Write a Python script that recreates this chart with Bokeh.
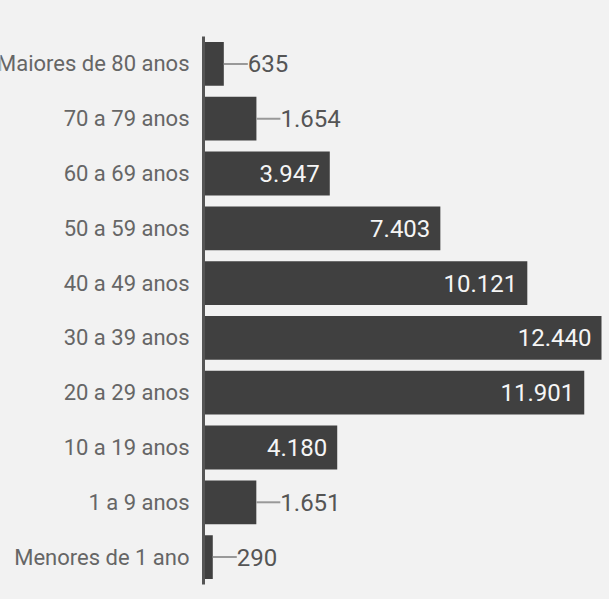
from bokeh.plotting import figure
from bokeh.layouts import row
from bokeh.models import ColumnDataSource, FactorRange, Range1d, LabelSet, LinearAxis, FixedTicker
from bokeh.core.properties import value
from bokeh.embed import file_html
from bokeh.resources import INLINE

categories = ["Menores de 1 ano", "1 a 9 anos", "10 a 19 anos", "20 a 29 anos",
              "30 a 39 anos", "40 a 49 anos", "50 a 59 anos", "60 a 69 anos",
              "70 a 79 anos", "Maiores de 80 anos"]
values = [290, 1651, 4180, 11901, 12440, 10121, 7403, 3947, 1654, 635]

BG = "#f2f2f2"
BAR = "#404040"

def fmt(v):
    return f"{v:,}".replace(",", ".")

inside = [v >= 3000 for v in values]
src = ColumnDataSource(dict(cat=categories, val=values, one=[1] * len(values)))
src_in = ColumnDataSource(dict(cat=[c for c, i in zip(categories, inside) if i],
                               val=[v for v, i in zip(values, inside) if i],
                               lbl=[fmt(v) for v, i in zip(values, inside) if i]))
src_out = ColumnDataSource(dict(cat=[c for c, i in zip(categories, inside) if not i],
                                val=[v for v, i in zip(values, inside) if not i],
                                lbl=[fmt(v) for v, i in zip(values, inside) if not i]))

yr = FactorRange(factors=categories, range_padding=0)

# left panel: category labels (clipped at the left edge like the reference)
lp = figure(width=195, height=599, output_backend="svg", toolbar_location=None,
            y_range=yr, x_range=Range1d(0, 1), x_axis_location=None, y_axis_location=None,
            min_border_left=0, min_border_top=36, min_border_bottom=15, min_border_right=0)
lp.background_fill_color = BG
lp.border_fill_color = BG
lp.outline_line_color = None
lp.xgrid.visible = False
lp.ygrid.visible = False
lp.text(x="one", y="cat", text="cat", source=src, x_offset=-6,
        text_align="right", text_baseline="middle",
        text_font=value("Roboto"), text_font_size="22px", text_color="#666666")

# main panel: bars
p = figure(width=414, height=599, output_backend="svg", toolbar_location=None,
           y_range=yr, x_range=Range1d(0, 12690), x_axis_location=None, y_axis_location=None,
           min_border_left=8, min_border_top=36, min_border_bottom=15, min_border_right=0)
p.background_fill_color = BG
p.border_fill_color = BG
p.outline_line_color = None
p.xgrid.visible = False
p.ygrid.visible = False

p.hbar(y="cat", right="val", left=0, height=0.8, source=src, color=BAR, line_color=None)

p.ray(x="val", y="cat", length=24, angle=0, length_units="screen", source=src_out,
      line_color="#999999", line_width=2)

yaxis = LinearAxis(ticker=FixedTicker(ticks=[]), axis_line_color="#555555", axis_line_width=3,
                   major_tick_line_color=None, minor_tick_line_color=None,
                   major_tick_out=0, major_tick_in=0, minor_tick_out=0, minor_tick_in=0,
                   major_label_standoff=0)
p.add_layout(yaxis, "left")

in_labels = LabelSet(x="val", y="cat", text="lbl", source=src_in, x_offset=-10,
                     text_align="right", text_baseline="middle",
                     text_font=value("Roboto"), text_font_size="24px", text_color="#f5f5f5")
out_labels = LabelSet(x="val", y="cat", text="lbl", source=src_out, x_offset=24,
                      text_align="left", text_baseline="middle",
                      text_font=value("Roboto"), text_font_size="24px", text_color="#555555")
p.add_layout(in_labels)
p.add_layout(out_labels)

layout = row(lp, p)
layout.spacing = 0

html = file_html(layout, INLINE)
html = html.replace("</head>", "<style>html, body { background: #f2f2f2; }</style></head>", 1)
open("out.html", "w").write(html)
